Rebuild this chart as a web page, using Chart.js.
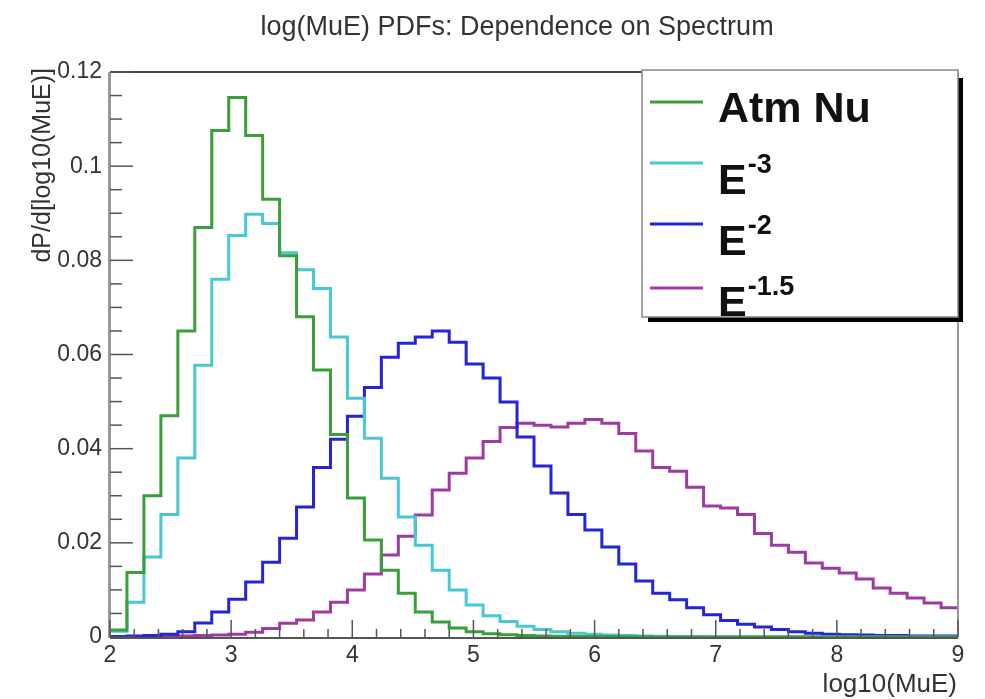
<!DOCTYPE html>
<html>
<head>
<meta charset="utf-8">
<script src="https://cdn.jsdelivr.net/npm/chart.js@4.4.1/dist/chart.umd.min.js"></script>
<style>
  html, body { margin: 0; padding: 0; background: #ffffff; }
  #wrap { width: 985px; height: 699px; }
</style>
</head>
<body>
<div id="wrap"><canvas id="c" width="985" height="699"></canvas></div>
<script>
// ---- histogram binning (50 bins from 2 to 9) ----
const xLow = 2;
const xHigh = 9;
const nBins = 50;

// ---- series values (bin contents) ----
const atmNu = [0.0015,0.0137,0.030,0.047,0.065,0.087,0.1076,0.1146,0.1065,0.093,
               0.081,0.068,0.0567,0.043,0.0295,0.0206,0.0142,0.0093,0.0053,0.0032,
               0.0019,0.0011,0.0007,0.0005,0.0003,0.0002,0.00015,0.0001,0.0001,0.00008,
               0.00005,0.00003,0,0,0,0,0,0,0,0,
               0,0,0,0,0,0,0,0,0,0];
const eMinus3 = [0.0012,0.0074,0.017,0.026,0.038,0.0577,0.076,0.0853,0.0898,0.0878,
                 0.0816,0.078,0.074,0.0637,0.0507,0.0422,0.0337,0.0255,0.0195,0.0142,
                 0.010,0.0068,0.0045,0.0033,0.0023,0.0016,0.0011,0.0008,0.0006,0.0004,
                 0.0003,0.0002,0.00015,0.0001,0.00008,0.00006,0.00005,0.00005,0.00004,0.00004,
                 0.00003,0.00003,0.00003,0.00002,0.00002,0.00002,0.00002,0.00001,0.00001,0.00001];
const eMinus2 = [0.0001,0.0002,0.0003,0.0006,0.0011,0.003,0.0053,0.008,0.0117,0.0159,
                 0.021,0.0276,0.036,0.042,0.0469,0.053,0.0594,0.0624,0.0637,0.065,
                 0.0626,0.058,0.055,0.0499,0.0425,0.0363,0.0306,0.026,0.0227,0.0191,
                 0.0155,0.0119,0.0093,0.0079,0.0062,0.0047,0.0035,0.0027,0.0021,0.0016,
                 0.0011,0.0008,0.0006,0.0005,0.0004,0.0003,0.0003,0.0002,0.0002,0.0002];
const eMinus15 = [0.0001,0.0001,0.0001,0.0002,0.0002,0.0003,0.0004,0.0006,0.001,0.0018,
                  0.0029,0.0036,0.0053,0.0074,0.010,0.0134,0.0174,0.0214,0.0259,0.0312,
                  0.0348,0.038,0.0415,0.0445,0.0454,0.045,0.0446,0.0454,0.0462,0.0454,
                  0.0432,0.0395,0.036,0.0352,0.0318,0.0278,0.0274,0.026,0.022,0.0195,
                  0.018,0.0157,0.0146,0.0136,0.0123,0.0104,0.0093,0.0083,0.0072,0.0062];

// ---- tick labels / texts ----
const xTickValues = [2,3,4,5,6,7,8,9];
const yTickValues = [0,0.02,0.04,0.06,0.08,0.1,0.12];
const titleText = "log(MuE) PDFs: Dependence on Spectrum";
const xTitle = "log10(MuE)";
const yTitle = "dP/d[log10(MuE)]";
const legendLabels = [["Atm Nu",""],["E","-3"],["E","-2"],["E","-1.5"]];
const seriesColors = ["#3a9e3a","#48c8d2","#2424d8","#9e3aa2"];

// ---- build step data ----
function toSteps(vals){
  const w = (xHigh - xLow) / nBins;
  const pts = vals.map((v,i) => ({x: xLow + i*w, y: v}));
  pts.push({x: xHigh, y: vals[vals.length-1]});
  return pts;
}
const seriesList = [atmNu, eMinus3, eMinus2, eMinus15];

const FONT = "'Liberation Sans', Arial, Helvetica, sans-serif";

const decor = {
  id: 'decor',
  afterDraw(chart){
    const ctx = chart.ctx;
    const xs = chart.scales.x, ys = chart.scales.y;
    const L = xs.left, R = xs.right, T = ys.top, B = ys.bottom;
    ctx.save();
    // frame top & right
    ctx.strokeStyle = '#444'; ctx.lineWidth = 2;
    ctx.beginPath(); ctx.moveTo(L, T); ctx.lineTo(R, T); ctx.stroke();
    ctx.strokeStyle = '#999'; ctx.lineWidth = 2;
    ctx.beginPath(); ctx.moveTo(R, T); ctx.lineTo(R, B); ctx.stroke();
    // left axis
    ctx.strokeStyle = '#999'; ctx.lineWidth = 3;
    ctx.beginPath(); ctx.moveTo(L-0.5, T); ctx.lineTo(L-0.5, B+1); ctx.stroke();
    // bottom axis
    ctx.strokeStyle = '#555'; ctx.lineWidth = 2;
    ctx.beginPath(); ctx.moveTo(L, B+1); ctx.lineTo(R, B+1); ctx.stroke();
    // x ticks
    ctx.strokeStyle = '#555'; ctx.lineWidth = 1.5;
    for (let k = 0; k <= 35; k++){
      const v = xLow + k*0.2;
      const px = xs.getPixelForValue(v);
      const major = (k % 5 === 0);
      ctx.beginPath(); ctx.moveTo(px, B); ctx.lineTo(px, B - (major ? 17 : 8)); ctx.stroke();
    }
    // y ticks
    for (let k = 0; k <= 24; k++){
      const v = k*0.005;
      const py = ys.getPixelForValue(v);
      const major = (k % 4 === 0);
      ctx.beginPath(); ctx.moveTo(L, py); ctx.lineTo(L + (major ? 23 : 12), py); ctx.stroke();
    }
    // title
    ctx.fillStyle = '#333';
    ctx.font = '27px ' + FONT;
    ctx.textAlign = 'center'; ctx.textBaseline = 'alphabetic';
    ctx.fillText(titleText, 517, 35);
    // x title
    ctx.font = '26px ' + FONT;
    ctx.textAlign = 'right';
    ctx.fillText(xTitle, 957, 692);
    // y title
    ctx.save();
    ctx.translate(50, 68); ctx.rotate(-Math.PI/2);
    ctx.font = '25px ' + FONT; ctx.textAlign = 'right';
    ctx.fillText(yTitle, 0, 0);
    ctx.restore();
    // legend
    ctx.fillStyle = '#000';
    ctx.fillRect(958, 78, 5, 244);
    ctx.fillRect(648, 317, 315, 5);
    ctx.fillStyle = '#fff';
    ctx.fillRect(642, 70, 316, 247);
    ctx.strokeStyle = '#888'; ctx.lineWidth = 1.5;
    ctx.strokeRect(642, 70, 316, 247);
    const rowsLineY = [102, 163, 224, 288];
    const rowsBase = [122, 194, 255, 316];
    ctx.textAlign = 'left';
    for (let i = 0; i < 4; i++){
      ctx.strokeStyle = seriesColors[i]; ctx.lineWidth = 3;
      ctx.beginPath(); ctx.moveTo(650, rowsLineY[i]); ctx.lineTo(703, rowsLineY[i]); ctx.stroke();
      ctx.fillStyle = '#111';
      ctx.font = 'bold 43px ' + FONT;
      const [main, sup] = legendLabels[i];
      ctx.fillText(main, 718, rowsBase[i]);
      if (sup){
        const w = ctx.measureText(main).width;
        ctx.font = 'bold 27px ' + FONT;
        ctx.fillText(sup, 718 + w + 1, rowsBase[i] - 21);
      }
    }
    ctx.restore();
  }
};

new Chart(document.getElementById('c'), {
  type: 'line',
  data: {
    datasets: seriesList.map((vals, i) => ({
      label: legendLabels[i].join(''),
      data: toSteps(vals),
      borderColor: seriesColors[i],
      borderWidth: 3,
      pointRadius: 0,
      fill: false,
      stepped: true,
      tension: 0
    }))
  },
  options: {
    responsive: false,
    animation: false,
    devicePixelRatio: 1,
    layout: { padding: { top: 72, right: 27, left: 0, bottom: 0 } },
    plugins: { legend: { display: false }, title: { display: false }, tooltip: { enabled: false } },
    scales: {
      x: {
        type: 'linear', min: xLow, max: xHigh,
        afterFit(s){ s.height = 62; },
        afterBuildTicks(s){ s.ticks = xTickValues.map(v => ({value: v})); },
        grid: { display: false, drawTicks: false },
        border: { display: false },
        ticks: { padding: 5, color: '#333', font: { size: 23, family: FONT }, maxRotation: 0,
                 callback: v => String(v) }
      },
      y: {
        type: 'linear', min: 0, max: 0.12,
        afterFit(s){ s.width = 110; },
        afterBuildTicks(s){ s.ticks = yTickValues.map(v => ({value: v})); },
        grid: { display: false, drawTicks: false },
        border: { display: false },
        ticks: { padding: 8, color: '#333', font: { size: 23, family: FONT },
                 callback: v => String(+Number(v).toFixed(2)) }
      }
    }
  },
  plugins: [decor]
});
</script>
</body>
</html>
